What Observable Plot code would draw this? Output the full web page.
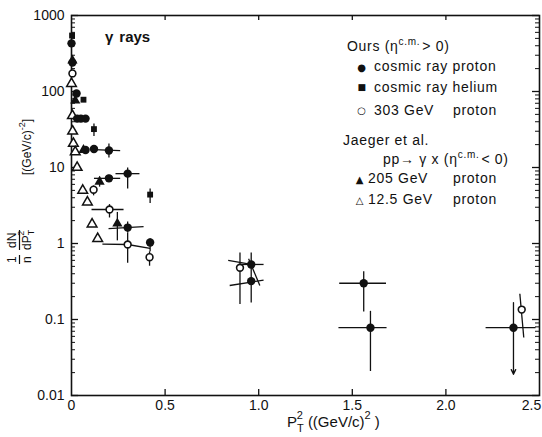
<!DOCTYPE html>
<html><head><meta charset="utf-8">
<script src="https://cdn.jsdelivr.net/npm/d3@7"></script>
<script src="https://cdn.jsdelivr.net/npm/@observablehq/plot@0.6"></script>
<style>
body{margin:0;background:#fff;}
#wrap{position:relative;width:542px;height:437px;font-family:"Liberation Sans",Arial,sans-serif;}
#wrap svg.overlay{position:absolute;left:0;top:0;pointer-events:none;}
</style></head><body><div id="wrap"></div>
<script>
// ---- tick values ----
const xTicks = [0, 0.5, 1.0, 1.5, 2.0, 2.5];
const xTickLabels = ["0", "0.5", "1.0", "1.5", "2.0", "2.5"];
const yTicks = [0.01, 0.1, 1, 10, 100, 1000];
const yTickLabels = ["0.01", "0.1", "1", "10", "100", "1000"];
const yMinorMultipliers = [2, 3, 4, 5, 6, 7, 8, 9];

// ---- Ours: cosmic ray proton (filled circles) ----
const crProtonX = [0.0, 0.005, 0.027, 0.03, 0.05, 0.075, 0.075, 0.12, 0.2, 0.3, 0.2, 0.3, 0.42, 0.96, 0.96, 1.561, 1.597, 2.361];
const crProtonY = [430, 240, 94, 44, 44, 44, 17, 17.5, 16.7, 8.3, 7.2, 1.62, 1.03, 0.53, 0.32, 0.30, 0.078, 0.078];

// ---- Ours: cosmic ray helium (filled squares) ----
const crHeliumX = [0.003, 0.064, 0.12, 0.42];
const crHeliumY = [545, 78, 32, 4.4];

// ---- Ours: 303 GeV proton (open circles) ----
const p303X = [0.005, 0.118, 0.203, 0.30, 0.417, 0.90, 2.405];
const p303Y = [173, 5.1, 2.8, 0.97, 0.66, 0.48, 0.135];

// ---- Jaeger et al.: 205 GeV proton (filled triangles) ----
const j205X = [0.005, 0.02, 0.064, 0.15, 0.245];
const j205Y = [256, 76, 17, 6.5, 1.83];

// ---- Jaeger et al.: 12.5 GeV proton (open triangles) ----
const j12X = [0.0, 0.005, 0.006, 0.01, 0.02, 0.03, 0.06, 0.085, 0.11, 0.14];
const j12Y = [127, 48, 30, 20.7, 16, 10, 5.0, 3.5, 1.8, 1.16];

// ---- error bars [x1, y1, x2, y2] ----
const errorBars = [
  [0.12, 17.2, 0.26, 16.7], [0.2, 20.7, 0.2, 13.5],
  [0.235, 8.3, 0.363, 8.3], [0.3, 10, 0.3, 5.3],
  [0.12, 7.2, 0.26, 7.2], [0.2, 8.0, 0.2, 6.5],
  [0.15, 7.6, 0.15, 5.6],
  [0.118, 5.8, 0.118, 4.3],
  [0.107, 2.8, 0.278, 2.8], [0.203, 3.3, 0.203, 2.2],
  [0.245, 2.6, 0.245, 1.1], [0.198, 1.57, 0.385, 1.67],
  [0.3, 1.95, 0.3, 1.4],
  [0.165, 0.98, 0.3, 0.97], [0.3, 0.97, 0.42, 0.86], [0.3, 1.4, 0.3, 0.56],
  [0.42, 1.17, 0.42, 0.79], [0.417, 0.79, 0.417, 0.51],
  [0.42, 5.3, 0.42, 3.4],
  [0.12, 38, 0.12, 26],
  [0.9, 0.53, 1.026, 0.53], [0.946, 0.63, 1.006, 0.28], [0.96, 0.76, 0.96, 0.167],
  [0.845, 0.28, 1.026, 0.33], [0.9, 0.76, 0.9, 0.16], [0.837, 0.6, 0.96, 0.53],
  [1.43, 0.30, 1.68, 0.30], [1.561, 0.43, 1.561, 0.127],
  [1.426, 0.078, 1.683, 0.078], [1.597, 0.13, 1.597, 0.021],
  [2.212, 0.078, 2.479, 0.078],
  [2.395, 0.218, 2.416, 0.058]
];
// upper-limit arrow [x1, y1, x2, y2]
const upperLimits = [[2.361, 0.167, 2.361, 0.019]];

const W = 542, H = 437;
const mL = 71, mR = 3, mT = 15, mB = 42;
const pw = W - mL - mR, ph = H - mT - mB;

const zip = (xs, ys) => xs.map((x, i) => ({x, y: ys[i]}));
const bars = errorBars.map(([x1, y1, x2, y2]) => ({x1, y1, x2, y2}));
const arrows = upperLimits.map(([x1, y1, x2, y2]) => ({x1, y1, x2, y2}));
const yMinor = yTicks.slice(0, -1).flatMap(d => yMinorMultipliers.map(m => d * m));
const xLabel = d => xTickLabels[xTicks.indexOf(d)];

const ink = "#111";
const chart = Plot.plot({
  width: W, height: H,
  marginLeft: mL, marginRight: mR, marginTop: mT, marginBottom: mB,
  style: {fontFamily: "Liberation Sans, Arial, sans-serif", fontSize: "14px", background: "#fff", color: ink},
  x: {domain: [0, 2.5], type: "linear"},
  y: {domain: [0.01, 1000], type: "log"},
  marks: [
    Plot.frame({stroke: ink, strokeWidth: 1.6}),
    // inward x ticks, bottom and top
    Plot.ruleX(xTicks.slice(1, -1), {x: d => d, insetTop: ph - 6, stroke: ink, strokeWidth: 1.3}),
    Plot.ruleX(xTicks.slice(1, -1), {x: d => d, insetBottom: ph - 5, stroke: ink, strokeWidth: 1.3}),
    // inward y ticks, left and right
    Plot.ruleY(yTicks, {y: d => d, insetRight: pw - 7, stroke: ink, strokeWidth: 1.3}),
    Plot.ruleY(yMinor, {y: d => d, insetRight: pw - 4, stroke: ink, strokeWidth: 1}),
    Plot.ruleY(yTicks, {y: d => d, insetLeft: pw - 7, stroke: ink, strokeWidth: 1.3}),
    Plot.ruleY(yMinor, {y: d => d, insetLeft: pw - 4, stroke: ink, strokeWidth: 1}),
    Plot.axisX(xTicks.slice(0, -1), {tickSize: 0, tickPadding: 5, tickFormat: xLabel, label: null, fill: ink}),
    Plot.axisX(xTicks.slice(-1), {tickSize: 0, tickPadding: 5, tickFormat: xLabel, label: null, fill: ink, dx: -8}),
    Plot.axisY(yTicks, {tickSize: 0, tickPadding: 7, tickFormat: d => yTickLabels[yTicks.indexOf(d)], label: null, fill: ink}),
    // error bars
    Plot.link(bars, {x1: "x1", y1: "y1", x2: "x2", y2: "y2", stroke: ink, strokeWidth: 1.3}),
    Plot.arrow(arrows, {x1: "x1", y1: "y1", x2: "x2", y2: "y2", stroke: ink, strokeWidth: 1.3, headLength: 6, headAngle: 50}),
    // points
    Plot.dot(zip(j12X, j12Y), {x: "x", y: "y", symbol: "triangle", r: 3.6, fill: "#fff", stroke: ink, strokeWidth: 1.5}),
    Plot.dot(zip(j205X, j205Y), {x: "x", y: "y", symbol: "triangle", r: 3.8, fill: ink}),
    Plot.dot(zip(crHeliumX, crHeliumY), {x: "x", y: "y", symbol: "square", r: 3.3, fill: ink}),
    Plot.dot(zip(crProtonX, crProtonY), {x: "x", y: "y", symbol: "circle", r: 4.2, fill: ink}),
    Plot.dot(zip(p303X, p303Y), {x: "x", y: "y", symbol: "circle", r: 3.4, fill: "#fff", stroke: ink, strokeWidth: 1.6})
  ]
});

const wrap = document.getElementById("wrap");
wrap.appendChild(chart);

const overlay = `
<svg class="overlay" width="${W}" height="${H}" xmlns="http://www.w3.org/2000/svg"
     font-family="Liberation Sans, Arial, sans-serif" font-size="14" fill="${ink}">
  <text x="105" y="42" font-size="15" font-weight="bold">γ<tspan dx="6">rays</tspan></text>

  <g style="letter-spacing:0.7px">
    <text x="347" y="51">Ours (η<tspan font-size="10" dy="-6">c.m.</tspan><tspan dy="6" dx="2">&gt; 0)</tspan></text>
    <text x="362" y="71" font-family="DejaVu Sans" font-size="10" text-anchor="middle">●</text>
    <text x="374" y="71">cosmic ray proton</text>
    <text x="362" y="90" font-family="DejaVu Sans" font-size="9" text-anchor="middle">■</text>
    <text x="374" y="92">cosmic ray helium</text>
    <text x="362" y="114" font-family="DejaVu Sans" font-size="10" text-anchor="middle">○</text>
    <text x="374" y="115">303 GeV</text>
    <text x="453" y="115">proton</text>

    <text x="343" y="145">Jaeger  et al.</text>
    <text x="383" y="164">pp→ γ x (η<tspan font-size="10" dy="-6">c.m.</tspan><tspan dy="6" dx="2">&lt; 0)</tspan></text>
    <text x="360" y="183" font-family="DejaVu Sans" font-size="10" text-anchor="middle">▲</text>
    <text x="368" y="183">205 GeV</text>
    <text x="453" y="183">proton</text>
    <text x="360" y="204" font-family="DejaVu Sans" font-size="10" text-anchor="middle">△</text>
    <text x="368" y="204">12.5 GeV</text>
    <text x="453" y="204">proton</text>
  </g>

  <g transform="translate(18,263) rotate(-90)" font-size="12">
    <text x="0" y="-2">1</text>
    <text x="15" y="-2">dN</text>
    <line x1="-1" y1="1.5" x2="8" y2="1.5" stroke="${ink}" stroke-width="1.2"/>
    <line x1="13" y1="1.5" x2="33" y2="1.5" stroke="${ink}" stroke-width="1.2"/>
    <text x="0" y="13">n</text>
    <text x="13" y="13">dP<tspan font-size="9" dy="3">T</tspan><tspan font-size="9" dy="-10" dx="-6">2</tspan></text>
    <text x="88" y="13">[(GeV/c)<tspan font-size="9" dy="-6">-2</tspan><tspan dy="6">]</tspan></text>
  </g>

  <text x="287" y="427" font-size="15">P<tspan font-size="11" dy="5">T</tspan><tspan font-size="11" dy="-13" dx="-7">2</tspan><tspan dy="8" dx="5">((GeV/c)</tspan><tspan font-size="11" dy="-8">2</tspan><tspan dy="8" dx="4">)</tspan></text>
</svg>`;
wrap.insertAdjacentHTML("beforeend", overlay);
</script>
</body></html>
